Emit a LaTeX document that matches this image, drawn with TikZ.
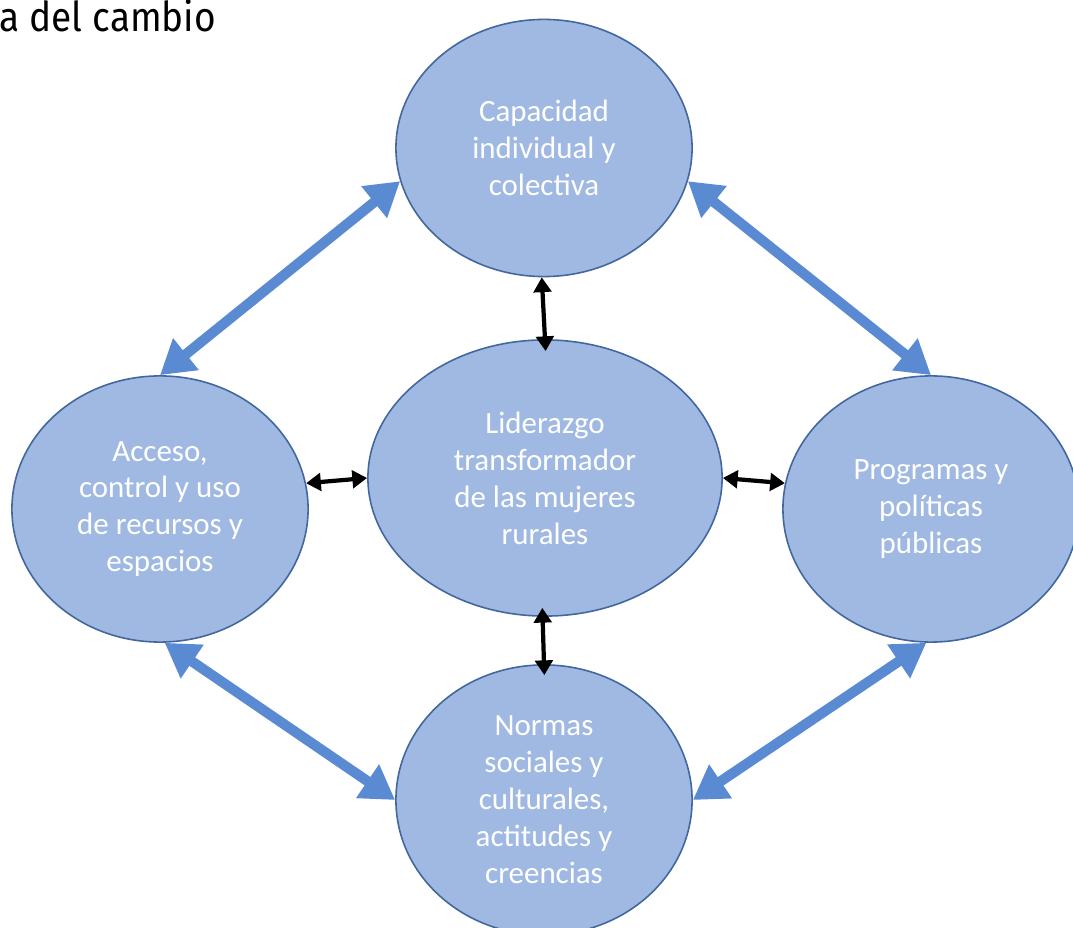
\documentclass[tikz,border=0pt]{standalone}
\usepackage{fontspec}
\setmainfont{Carlito}
\newfontfamily\titlefont[FakeStretch=0.9]{Fira Sans}
\usetikzlibrary{arrows.meta,shapes.geometric}
\definecolor{ellfill}{HTML}{A0B9E2}
\definecolor{elldraw}{HTML}{41679E}
\definecolor{arrblue}{HTML}{5A8AD2}

\begin{document}
\begin{tikzpicture}[x=0.01cm,y=-0.01cm]
	\tikzset{circ/.style={ellipse,draw=elldraw,fill=ellfill,line width=0.45pt,inner sep=0pt,
			text=white,align=center,font=\fontsize{8.8}{10.5}\selectfont},
		bigarrow/.style={draw=arrblue,line width=2.9pt,
			{Triangle[length=9.5pt,width=11pt]}-{Triangle[length=9.5pt,width=11pt]}},
		smallarrow/.style={draw=black,line width=1.2pt,
			{Triangle[length=4.2pt,width=5pt]}-{Triangle[length=4.2pt,width=5pt]}}}
	\useasboundingbox (0,0) rectangle (1073,928);
	\node[anchor=base west,inner sep=0pt,font=\titlefont\fontsize{11.7}{14}\selectfont] (tit) at (-1,32) {a del cambio};
	\node[circ,minimum width=2.96cm,minimum height=2.57cm] (cap) at (544,148) {Capacidad\\individual y\\colectiva};
	\node[circ,minimum width=3.54cm,minimum height=2.76cm] (lid) at (545,478) {Liderazgo\\transformador\\de las mujeres\\rurales};
	\node[circ,minimum width=2.96cm,minimum height=2.66cm] (acc) at (160,509) {Acceso,\\control y uso\\de recursos y\\espacios};
	\node[circ,minimum width=2.96cm,minimum height=2.66cm] (pro) at (931,509) {Programas y\\políticas\\públicas};
	\node[circ,minimum width=2.96cm,minimum height=2.70cm] (nor) at (544,800) {Normas\\sociales y\\culturales,\\actitudes y\\creencias};
	\path
		(cap.193) edge[bigarrow] (acc.90)
		(cap.347) edge[bigarrow] (pro.90)
		(acc.272) edge[bigarrow] (nor.180)
		(pro.268) edge[bigarrow] (nor.0)
		(cap.269) edge[smallarrow,shorten >=-0.12cm] (lid.90)
		(acc.10) edge[smallarrow] (lid.180)
		(lid.0) edge[smallarrow] (pro.170)
		(lid.269) edge[smallarrow,shorten <=-0.09cm,shorten >=-0.11cm] (nor.90);
\end{tikzpicture}
\end{document}
